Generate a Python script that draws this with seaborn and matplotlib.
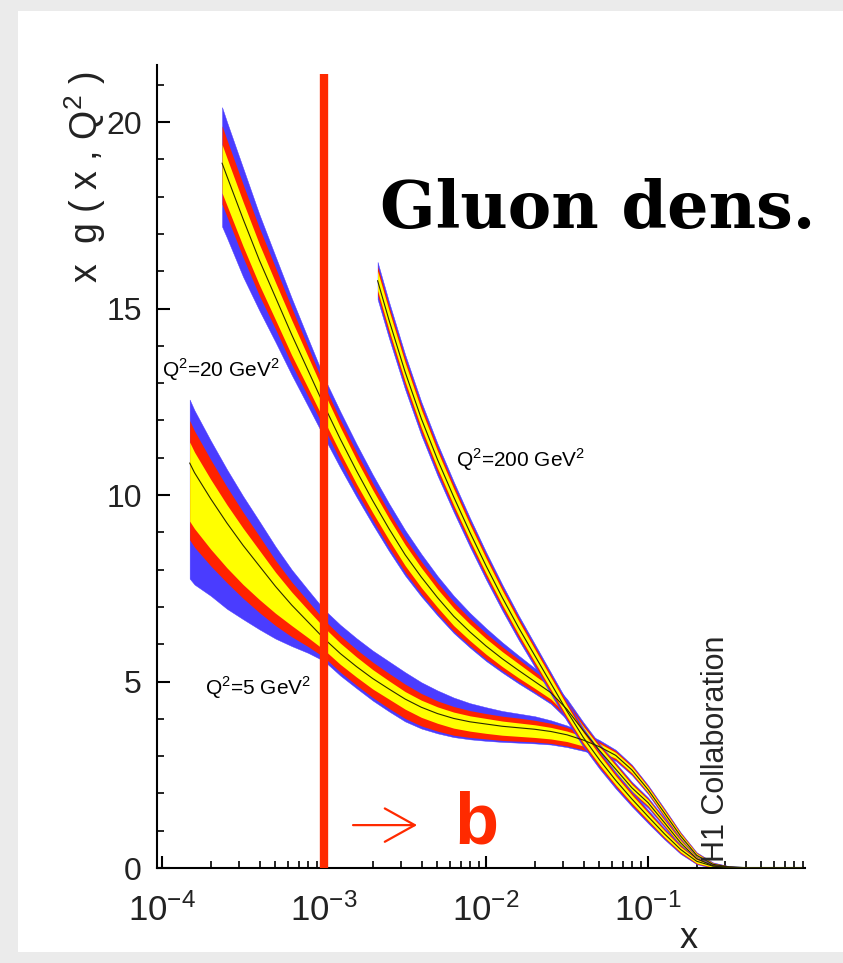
import numpy as np
import pandas as pd
import matplotlib
matplotlib.use("Agg")
import matplotlib.pyplot as plt
import seaborn as sns
from matplotlib import font_manager
from matplotlib.patches import Rectangle
from matplotlib.ticker import LogLocator, MultipleLocator, FixedFormatter, FixedLocator, NullFormatter

# ---- data: log10(x), central value, band half widths ----
# Q2 = 5 GeV2
lx5 = [-3.83, -3.8, -3.7, -3.6, -3.5, -3.4, -3.3, -3.2, -3.1, -3.0,
       -2.9, -2.8, -2.7, -2.6, -2.5, -2.4, -2.3, -2.2, -2.1, -2.0,
       -1.9, -1.8, -1.7, -1.6, -1.5, -1.4, -1.3, -1.2, -1.1, -1.0,
       -0.9, -0.8, -0.7, -0.6, -0.5, -0.4, -0.3, -0.05]
mid5 = [10.86, 10.6, 9.9, 9.25, 8.65, 8.1, 7.55, 7.05, 6.6, 6.15,
        5.75, 5.4, 5.08, 4.8, 4.53, 4.31, 4.14, 4.01, 3.92, 3.86,
        3.8, 3.76, 3.72, 3.66, 3.57, 3.43, 3.25, 3.02, 2.63, 2.1,
        1.48, 0.86, 0.34, 0.1, 0.03, 0.01, 0.0, 0.0]
yu5 = [.56, .55, .52, .49, .46, .42, .38, .35, .32, .30,
       .28, .26, .24, .22, .20, .19, .18, .17, .16, .15,
       .14, .13, .12, .11, .10, .10, .09, .08, .08, .07,
       .07, .06, .05, .03, .01, .01, .01, .01]
ru5 = [1.14, 1.12, 1.05, .97, .89, .80, .70, .62, .56, .50,
       .48, .46, .44, .42, .40, .37, .34, .32, .30, .28,
       .27, .26, .24, .22, .20, .17, .14, .12, .12, .10,
       .10, .09, .07, .04, .02, .01, .01, .01]
bu5 = [1.7, 1.67, 1.56, 1.44, 1.32, 1.2, 1.07, .95, .86, .78,
       .77, .76, .75, .74, .72, .67, .62, .56, .50, .45,
       .41, .38, .35, .30, .25, .21, .18, .15, .14, .12,
       .12, .10, .08, .05, .02, .02, .01, .01]
yd5 = [1.56, 1.5, 1.35, 1.2, 1.05, .9, .72, .55, .42, .30,
       .29, .28, .28, .27, .27, .27, .26, .26, .25, .25,
       .24, .23, .22, .20, .18, .16, .12, .08, .08, .07,
       .07, .06, .05, .03, .01, .0, .0, .0]
rd5 = [2.06, 2.0, 1.8, 1.6, 1.42, 1.25, 1.05, .85, .66, .50,
       .50, .50, .51, .52, .52, .50, .47, .45, .42, .40,
       .38, .36, .34, .32, .30, .26, .19, .12, .12, .10,
       .10, .09, .07, .04, .02, .0, .0, .0]
bd5 = [3.1, 3.0, 2.6, 2.3, 1.98, 1.7, 1.4, 1.1, .83, .60,
       .59, .58, .59, .60, .60, .57, .53, .50, .47, .45,
       .42, .40, .38, .35, .33, .29, .22, .15, .14, .12,
       .12, .10, .08, .05, .02, .0, .0, .0]

# Q2 = 20 GeV2
lx20 = [-3.63, -3.6, -3.5, -3.4, -3.3, -3.2, -3.1, -3.0, -2.9, -2.8,
        -2.7, -2.6, -2.5, -2.4, -2.3, -2.2, -2.1, -2.0, -1.9, -1.8,
        -1.7, -1.6, -1.5, -1.4, -1.3, -1.2, -1.1, -1.0, -0.9, -0.8,
        -0.7, -0.6, -0.5, -0.4, -0.3, -0.05]
mid20 = [18.9, 18.55, 17.4, 16.3, 15.3, 14.3, 13.35, 12.4, 11.5, 10.65,
         9.85, 9.1, 8.4, 7.8, 7.25, 6.75, 6.33, 5.95, 5.61, 5.3,
         5.0, 4.7, 4.25, 3.68, 3.15, 2.65, 2.15, 1.75, 1.22, 0.68,
         0.25, 0.06, 0.02, 0.01, 0.0, 0.0]
yu20 = [.5, .49, .46, .43, .40, .39, .37, .35, .32, .30,
        .29, .28, .27, .25, .23, .22, .21, .20, .19, .18,
        .16, .15, .14, .12, .10, .10, .09, .08, .07, .06,
        .04, .02, .01, .01, .01, .01]
ru20 = [1.0, .98, .93, .87, .80, .72, .63, .55, .52, .50,
        .47, .45, .44, .42, .40, .38, .36, .34, .32, .30,
        .27, .25, .22, .18, .15, .14, .13, .11, .10, .08,
        .05, .03, .01, .01, .01, .01]
bu20 = [1.5, 1.46, 1.37, 1.23, 1.1, .98, .86, .75, .74, .72,
        .70, .68, .66, .62, .58, .55, .51, .48, .44, .40,
        .36, .32, .28, .23, .18, .17, .16, .14, .12, .10,
        .06, .03, .02, .01, .01, .01]
yd20 = [.8, .78, .73, .66, .6, .55, .47, .40, .37, .35,
        .32, .30, .29, .28, .26, .25, .23, .22, .21, .20,
        .18, .17, .15, .12, .10, .10, .09, .08, .07, .06,
        .04, .02, .01, .01, .0, .0]
rd20 = [1.1, 1.08, 1.03, .95, .85, .80, .70, .60, .57, .55,
        .52, .50, .47, .45, .42, .40, .37, .35, .32, .30,
        .28, .26, .23, .18, .15, .14, .13, .11, .10, .08,
        .05, .03, .01, .01, .0, .0]
bd20 = [1.7, 1.65, 1.55, 1.35, 1.2, 1.08, .96, .85, .77, .70,
        .64, .60, .56, .52, .48, .45, .42, .40, .37, .35,
        .32, .30, .27, .23, .18, .17, .16, .14, .12, .10,
        .06, .03, .02, .01, .0, .0]

# Q2 = 200 GeV2 (symmetric bands)
lx200 = [-2.67, -2.6, -2.5, -2.4, -2.3, -2.2, -2.1, -2.0, -1.9, -1.8,
         -1.7, -1.6, -1.5, -1.4, -1.3, -1.2, -1.1, -1.0, -0.9, -0.8,
         -0.7, -0.6, -0.5, -0.4, -0.3, -0.05]
mid200 = [15.75, 14.7, 13.3, 12.05, 10.95, 9.95, 9.0, 8.1, 7.25, 6.45,
          5.7, 4.95, 4.2, 3.5, 2.9, 2.35, 1.85, 1.38, 0.92, 0.5,
          0.18, 0.05, 0.015, 0.005, 0.0, 0.0]
yw200 = [.26, .26, .25, .24, .23, .22, .21, .2, .19, .18,
         .17, .16, .15, .14, .13, .12, .11, .1, .09, .07,
         .05, .03, .01, .01, .0, .0]
rw200 = [.38, .37, .36, .35, .33, .32, .30, .29, .27, .26,
         .24, .23, .21, .2, .19, .17, .16, .14, .12, .10,
         .07, .04, .02, .01, .0, .0]
bw200 = [.5, .49, .47, .45, .43, .41, .39, .37, .35, .33,
         .31, .29, .27, .25, .24, .22, .2, .18, .15, .12,
         .08, .05, .02, .01, .0, .0]

curve_names = ["Q2=5", "Q2=20", "Q2=200"]
label_texts = [r"Q$^\mathregular{2}$=5 GeV$^\mathregular{2}$",
               r"Q$^\mathregular{2}$=20 GeV$^\mathregular{2}$",
               r"Q$^\mathregular{2}$=200 GeV$^\mathregular{2}$"]
label_x = [1.84e-4, 1.0e-4, 6.5e-3]
label_y = [4.83, 13.35, 10.94]

x_ticks = [1e-4, 1e-3, 1e-2, 1e-1]
x_ticklabels = [r"$\mathregular{10^{-4}}$", r"$\mathregular{10^{-3}}$",
                r"$\mathregular{10^{-2}}$", r"$\mathregular{10^{-1}}$"]
cut_x = 1e-3
cut_top = 21.3

# ---- colours ----
c_blue = "#4a3cff"
c_red = "#ff2200"
c_yellow = "#ffff00"
c_mid = "#2a2a00"
c_cut = "#ff2a00"

sns.set_theme(style="ticks")
names = {f.name for f in font_manager.fontManager.ttflist}
narrow = "Liberation Sans Narrow" if "Liberation Sans Narrow" in names else "Liberation Sans"
plt.rcParams["font.family"] = [narrow, "DejaVu Sans"]

fig = plt.figure(figsize=(8.43, 9.63), dpi=100)
fig.patch.set_facecolor("#ebebeb")
fig.add_artist(Rectangle((18 / 843, 11 / 963), 825 / 843, 941 / 963,
                         transform=fig.transFigure, facecolor="white",
                         edgecolor="none", zorder=0))
ax = fig.add_axes([157 / 843, 95 / 963, 648 / 843, 803 / 963])
ax.set_facecolor("none")
ax.set_xscale("log")


def draw_band(lx, mid, yu, ru, bu, yd, rd, bd, name):
    x = 10 ** np.array(lx)
    m = np.array(mid)
    ax.fill_between(x, m + np.array(bu), m - np.array(bd), color=c_blue, lw=0.3, ec=c_blue, zorder=2)
    ax.fill_between(x, m + np.array(ru), m - np.array(rd), color=c_red, lw=0, zorder=2)
    ax.fill_between(x, m + np.array(yu), m - np.array(yd), color=c_yellow, lw=0, zorder=2)
    df = pd.DataFrame({"x": x, "y": m, "curve": name})
    sns.lineplot(data=df, x="x", y="y", ax=ax, color=c_mid, lw=0.8, zorder=3)


draw_band(lx5, mid5, yu5, ru5, bu5, yd5, rd5, bd5, curve_names[0])
draw_band(lx20, mid20, yu20, ru20, bu20, yd20, rd20, bd20, curve_names[1])
draw_band(lx200, mid200, yw200, rw200, bw200, yw200, rw200, bw200, curve_names[2])

# the cut at x = 1e-3
ax.vlines(cut_x, 0, cut_top, color=c_cut, lw=6, zorder=5)

for t, xx, yy in zip(label_texts, label_x, label_y):
    ax.text(xx, yy, t, fontsize=15, ha="left", va="center", color="black", zorder=6)

ax.text(2.2e-3, 17.65, "Gluon dens.", family="DejaVu Serif", fontweight="bold",
        fontsize=47, ha="left", va="center", color="black", zorder=6)
ax.annotate("", xy=(3.9e-3, 1.15), xytext=(1.45e-3, 1.15),
            arrowprops=dict(arrowstyle="->,head_length=0.9,head_width=0.5",
                            color=c_cut, lw=1.6, mutation_scale=24), zorder=6)
ax.text(6.4e-3, 0.67, "b", fontsize=52, fontweight="bold", ha="left", va="baseline",
        color=c_cut, family=["Liberation Sans", "DejaVu Sans"], zorder=6)
ax.text(0.263, 0.17, "H1 Collaboration", rotation=90, fontsize=22, ha="center",
        va="bottom", family=["Liberation Sans", "DejaVu Sans"], zorder=6)

# axes
ax.set_xlim(9.3e-5, 0.93)
ax.set_ylim(0, 21.53)
ax.xaxis.set_major_locator(FixedLocator(x_ticks))
ax.xaxis.set_major_formatter(FixedFormatter(x_ticklabels))
ax.xaxis.set_minor_locator(LogLocator(base=10, subs=np.arange(2, 10)))
ax.xaxis.set_minor_formatter(NullFormatter())
ax.yaxis.set_major_locator(MultipleLocator(5))
ax.yaxis.set_minor_locator(MultipleLocator(1))
ax.tick_params(axis="both", which="major", direction="in", length=9, width=1.5,
               color="black", labelcolor="#222222")
ax.tick_params(axis="y", which="major", labelsize=23, pad=11)
ax.tick_params(axis="x", which="major", labelsize=25, pad=18)
ax.tick_params(axis="both", which="minor", direction="in", length=5, width=1.2, color="black")
for s in ["top", "right"]:
    ax.spines[s].set_visible(False)
for s in ["left", "bottom"]:
    ax.spines[s].set_linewidth(1.5)
    ax.spines[s].set_color("black")

ax.set_xlabel("x", fontsize=26, color="#222222")
ax.xaxis.set_label_coords(0.82, -0.066)
ax.set_ylabel(r"x  g ( x , Q$^\mathregular{2}$ )", fontsize=27, color="#222222")
ax.yaxis.set_label_coords(-0.075, 0.86)

fig.savefig("out.png", dpi=100, facecolor=fig.get_facecolor())
